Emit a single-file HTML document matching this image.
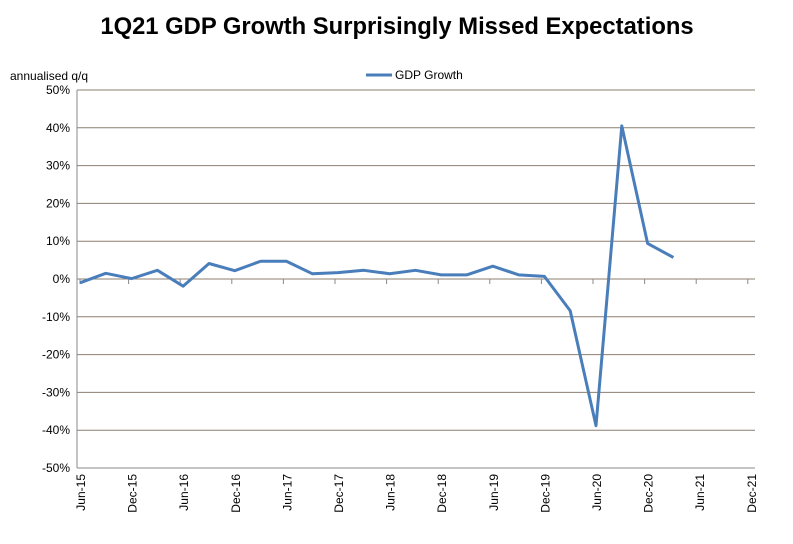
<!DOCTYPE html>
<html><head><meta charset="utf-8"><style>
body{margin:0;background:#fff;}
svg text{font-family:"Liberation Sans",Arial,sans-serif;}
</style></head><body>
<svg width="793" height="539" xmlns="http://www.w3.org/2000/svg">
<text x="397" y="34" text-anchor="middle" font-size="23.8" font-weight="bold">1Q21 GDP Growth Surprisingly Missed Expectations</text>
<text x="10" y="80" font-size="12">annualised q/q</text>
<g><line x1="366" y1="75" x2="392" y2="75" stroke="#4a7ebb" stroke-width="3"/><text x="395" y="79" font-size="12">GDP Growth</text></g>
<g id="grid"></g><g id="yl"></g><g id="xl"></g>
<polyline id="line" fill="none" stroke="#4a7ebb" stroke-width="3" stroke-linejoin="round"/>
</svg>
<script>
const values=[-1,1.5,0.1,2.3,-1.9,4.1,2.2,4.7,4.7,1.4,1.7,2.3,1.4,2.3,1.1,1.1,3.4,1.1,0.7,-8.4,-38.8,40.5,9.4,5.7];
const yTicks=[50,40,30,20,10,0,-10,-20,-30,-40,-50];
const xLabels=["Jun-15","Dec-15","Jun-16","Dec-16","Jun-17","Dec-17","Jun-18","Dec-18","Jun-19","Dec-19","Jun-20","Dec-20","Jun-21","Dec-21"];
const L=77,R=755,T=90,B=468;
const y=v=>T+(50-v)/100*(B-T);
const x=q=>80+q*25.8;
const ns="http://www.w3.org/2000/svg";
function mk(t,a,p){const e=document.createElementNS(ns,t);for(const k in a)e.setAttribute(k,a[k]);document.getElementById(p).appendChild(e);return e;}
yTicks.forEach(v=>{
 const g=mk('line',{x1:L,x2:R,y1:y(v),y2:y(v),stroke:v===-50?'#888':'#8c7f70','stroke-width':1},'grid');
 
 
 const t=mk('text',{x:L-7,y:y(v)+4,'text-anchor':'end','font-size':12},'yl');
 t.textContent=v+'%';
 
 
});
mk('line',{x1:L,x2:L,y1:T,y2:B,stroke:'#888'},'grid');
xLabels.forEach((s,i)=>{
 const px=x(i*2);
 mk('line',{x1:px+(i?-3:0),x2:px+(i?-3:0),y1:y(0),y2:y(0)+5,stroke:'#888'},'grid');
 const t=mk('text',{x:0,y:0,'text-anchor':'end','font-size':12,transform:`translate(${px+5},${B+6}) rotate(-90)`},'xl');
 t.textContent=s;
 
 
});
document.getElementById('line').setAttribute('points',values.map((v,i)=>x(i)+','+y(v)).join(' '));
</script>
</body></html>
